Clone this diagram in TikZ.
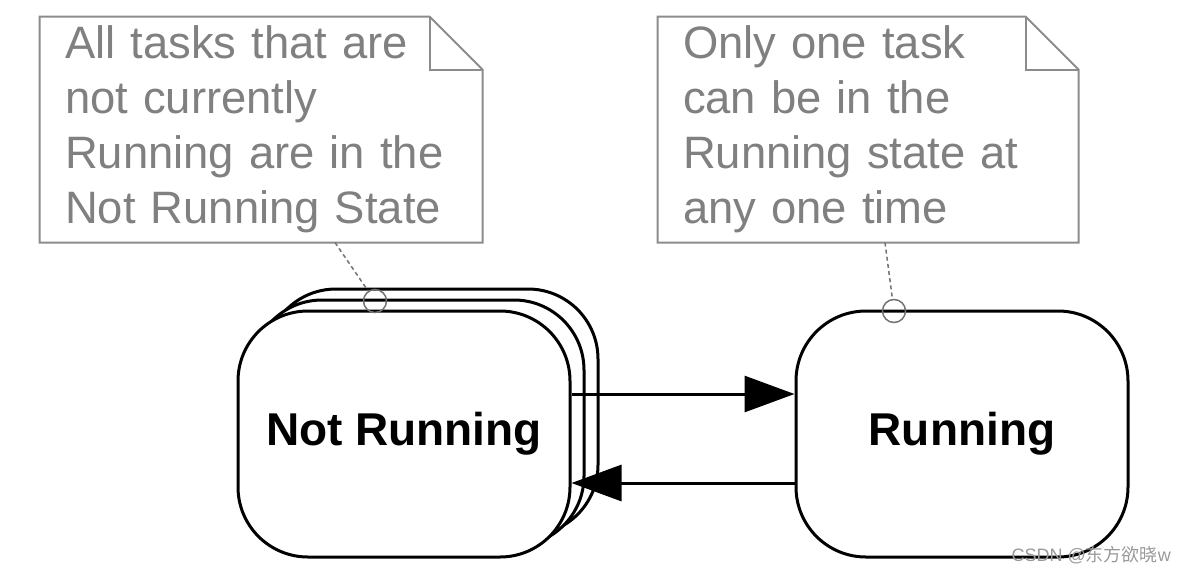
\documentclass[tikz,border=0pt]{standalone}
\usepackage{fontspec}
\setmainfont{Liberation Sans}
\newfontfamily\cjkfont{Noto Sans CJK SC}
\usetikzlibrary{arrows.meta}

\begin{document}
\begin{tikzpicture}
[x=0.5pt, y=-0.5pt, line width=1.5pt,
statebox/.style={rectangle, rounded corners=35pt, draw, fill=white, inner sep=0pt, minimum width=166pt, minimum height=123pt, font=\fontsize{23}{27.5}\selectfont\bfseries},
notebox/.style={rectangle, inner xsep=12pt, inner ysep=0pt, align=left, text=black!50, minimum height=111.5pt, font=\fontsize{22.7}{27.5}\selectfont},
noteline/.style={draw=black!45, line width=1pt, line join=miter},
ring/.style={circle, draw=black!55, line width=0.75pt, inner sep=0pt, minimum size=11.5pt},
tether/.style={draw=black!55, line width=0.75pt, dash pattern=on 2pt off 1.6pt},
transition/.style={-{Triangle[length=25pt, width=18pt]}}]

\useasboundingbox (0,0) rectangle (1189,574);

% notes
\node[notebox, text width=196pt] (leftnote) at (261,129.5) {All tasks that are\\not currently\\Running are in the\\Not Running State};
\node[notebox, text width=185pt] (rightnote) at (868,129.5) {Only one task\\can be in the\\Running state at\\any one time};

\foreach \n in {leftnote, rightnote} {
  \draw[noteline] (\n.north west) -- ([xshift=-26.5pt]\n.north east) -- ([yshift=-26.5pt]\n.north east) -- (\n.south east) -- (\n.south west) -- cycle;
  \draw[noteline] ([xshift=-26.5pt]\n.north east) |- ([yshift=-26.5pt]\n.north east);
}

% states
\foreach \layer/\cx/\cy in {back/432/412, mid/418/423} {
  \node[statebox] (stack\layer) at (\cx,\cy) {};
}
\node[statebox] (notrun) at (404,434) {Not Running};
\node[statebox] (run) at (962,434) {Running};

\draw[transition] ([yshift=20pt]notrun.east) -- ([yshift=20pt]run.west);
\draw[transition] ([yshift=-24.5pt]run.west) -- ([yshift=-24.5pt]notrun.east);

% note anchors
\node[ring] (ringleft) at (375,301) {};
\node[ring] (ringright) at (894,311) {};
\draw[tether] ([xshift=37pt]leftnote.south) -- (ringleft);
\draw[tether] ([xshift=8.5pt]rightnote.south) -- (ringright);

\node[text=black!40, font=\fontsize{9}{10}\selectfont, anchor=east] (csdn) at (1179,555) {CSDN @{\cjkfont 东方欲晓}w};
\end{tikzpicture}
\end{document}
